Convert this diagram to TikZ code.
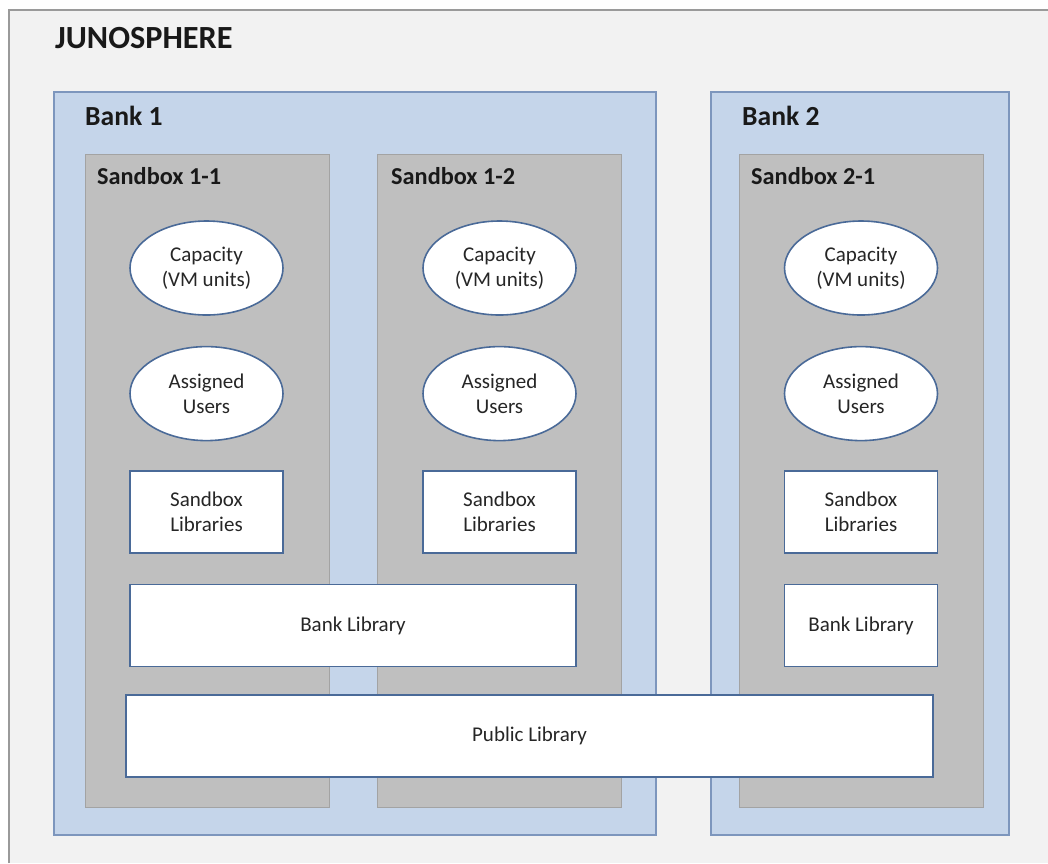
\documentclass[tikz,border=0pt]{standalone}
\usepackage{fontspec}
\setmainfont{Carlito}
\usepackage{xcolor}
\usetikzlibrary{shapes.geometric,positioning}

\definecolor{canvasgray}{HTML}{F2F2F2}
\definecolor{canvasedge}{HTML}{9A9A9A}
\definecolor{bankblue}{HTML}{C5D5EA}
\definecolor{bankedge}{HTML}{7D96BD}
\definecolor{sandgray}{HTML}{BFBFBF}
\definecolor{sandedge}{HTML}{A3A3A3}
\definecolor{itemedge}{HTML}{4A6A98}

\begin{document}
\begin{tikzpicture}[
    x=1pt, y=-1pt,
    node distance=30pt,
    bank/.style={rectangle, draw=bankedge, line width=1.4pt, fill=bankblue, minimum width=#1, minimum height=743pt, inner sep=0pt},
    sandbox/.style={rectangle, draw=sandedge, line width=1pt, fill=sandgray, minimum width=244pt, minimum height=653pt, inner sep=0pt},
    pool/.style={ellipse, draw=itemedge, line width=1.6pt, fill=white, minimum width=153pt, minimum height=94pt, inner sep=0pt, align=center, font=\fontsize{21}{25}\selectfont, text=black!85},
    lib/.style={rectangle, draw=itemedge, line width=1.4pt, fill=white, minimum width=#1, minimum height=82pt, inner sep=0pt, align=center, font=\fontsize{21}{25}\selectfont, text=black!85},
    heading/.style={anchor=west, inner sep=0pt, font=\bfseries\fontsize{#1}{#1}\selectfont, text=black!90}
]

\useasboundingbox (0,0) rectangle (1048,863);

% background sheet
\fill[canvasgray] (9,10) rectangle (1048,863);
\draw[canvasedge, line width=1.5pt] (9,863) -- (9,10) -- (1048,10);
\node[heading=32.3] (juno) at (55,38) {JUNOSPHERE};

% banks
\node[bank=602pt] (bank1) at (355,463.5) {};
\node[bank=298pt] (bank2) at (860,463.5) {};
\node[heading=27.6] (bank1lbl) at (85,116) {Bank 1};
\node[heading=27.6] (bank2lbl) at (742,116) {Bank 2};

% sandboxes
\node[sandbox] (sb11) at (207,480.5) {};
\node[sandbox] (sb12) at (499.5,480.5) {};
\node[sandbox] (sb21) at (861,480.5) {};
\node[heading=24.3] (sb11lbl) at (97,176) {Sandbox 1-1};
\node[heading=24.3] (sb12lbl) at (391,176) {Sandbox 1-2};
\node[heading=24.3] (sb21lbl) at (751,176) {Sandbox 2-1};

% sandbox contents
\node[pool] (cap11) at (206.5,268) {Capacity\\(VM units)};
\node[pool, below=of cap11] (users11) {Assigned\\Users};
\node[lib=153pt, below=29pt of users11] (sblib11) {Sandbox\\Libraries};

\node[pool] (cap12) at (499.5,268) {Capacity\\(VM units)};
\node[pool, below=of cap12] (users12) {Assigned\\Users};
\node[lib=153pt, below=29pt of users12] (sblib12) {Sandbox\\Libraries};

\node[pool] (cap21) at (861,268) {Capacity\\(VM units)};
\node[pool, below=of cap21] (users21) {Assigned\\Users};
\node[lib=153pt, below=29pt of users21] (sblib21) {Sandbox\\Libraries};

% shared libraries
\node[lib=446pt, below=of sblib11.south west, anchor=north west] (banklib1) {Bank Library};
\node[lib=153pt, below=of sblib21] (banklib2) {Bank Library};
\node[lib=807pt] (publib) at (529.5,736) {Public Library};

\end{tikzpicture}
\end{document}
